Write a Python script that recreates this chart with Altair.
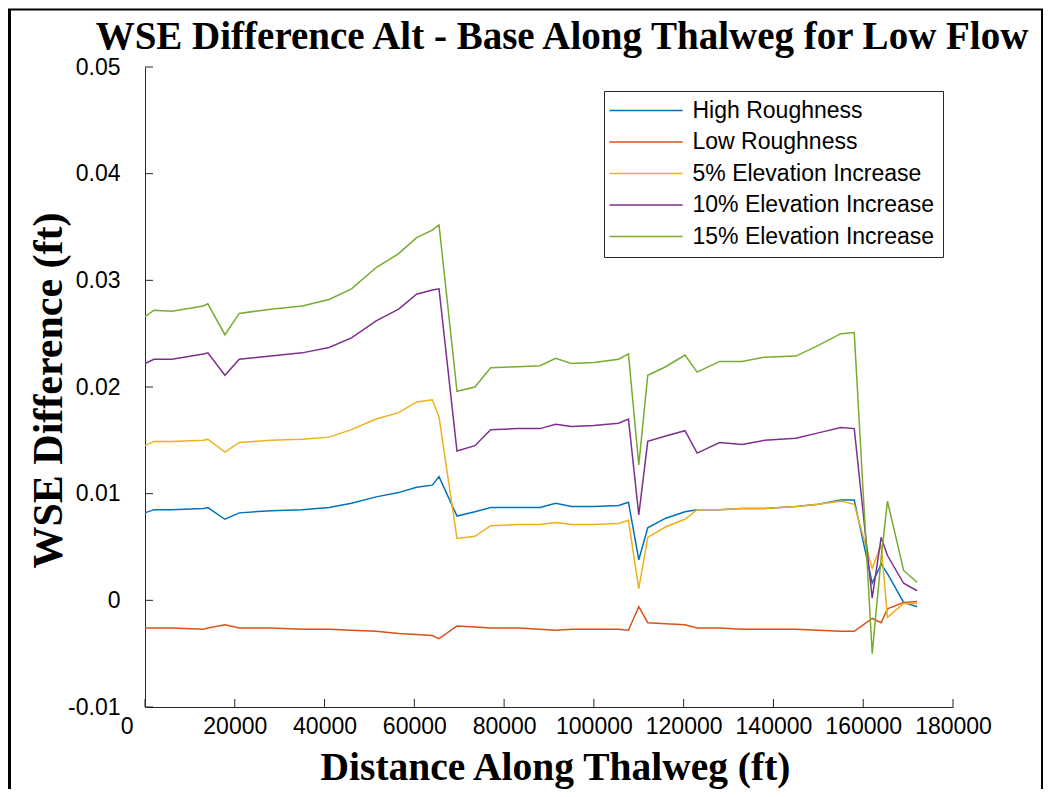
import altair as alt
import pandas as pd

# ---------------- data ----------------
distance = [0, 2000, 6000, 13000, 14000, 17800, 21000, 28000, 35000, 41000,
            46000, 51500, 56500, 60500, 64000, 65500, 69500, 73500, 77000, 83000,
            88000, 91500, 95000, 100000, 105500, 107700, 110000, 112000, 116000, 120300,
            123000, 128000, 133000, 138000, 145000, 150000, 155000, 158000, 162000, 164000,
            165400, 169000, 172000]

high_roughness = [0.0082, 0.0085, 0.0085, 0.0086, 0.0087, 0.0076, 0.0082, 0.0084, 0.0085, 0.0087,
                  0.0091, 0.0097, 0.0101, 0.0106, 0.0108, 0.0116, 0.0079, 0.0083, 0.0087, 0.0087,
                  0.0087, 0.0091, 0.0088, 0.0088, 0.0089, 0.0092, 0.0038, 0.0068, 0.0077, 0.0083,
                  0.0085, 0.0085, 0.0086, 0.0086, 0.0088, 0.0090, 0.0094, 0.0094, 0.0016, 0.0034,
                  0.0025, -0.0002, -0.0006]

low_roughness = [-0.0026, -0.0026, -0.0026, -0.0027, -0.0026, -0.0023, -0.0026, -0.0026, -0.0027, -0.0027,
                 -0.0028, -0.0029, -0.0031, -0.0032, -0.0033, -0.0036, -0.0024, -0.0025, -0.0026, -0.0026,
                 -0.0027, -0.0028, -0.0027, -0.0027, -0.0027, -0.0028, -0.0006, -0.0021, -0.0022, -0.0023,
                 -0.0026, -0.0026, -0.0027, -0.0027, -0.0027, -0.0028, -0.0029, -0.0029, -0.0017, -0.0021,
                 -0.0008, -0.0002, -0.0001]

elev_5 = [0.0145, 0.0149, 0.0149, 0.0150, 0.0151, 0.0139, 0.0148, 0.0150, 0.0151, 0.0153,
          0.0160, 0.0170, 0.0176, 0.0186, 0.0188, 0.0172, 0.0058, 0.0060, 0.0070, 0.0071,
          0.0071, 0.0073, 0.0071, 0.0071, 0.0072, 0.0075, 0.0011, 0.0059, 0.0069, 0.0076,
          0.0085, 0.0085, 0.0086, 0.0086, 0.0088, 0.0090, 0.0093, 0.0090, 0.0030, 0.0052,
          -0.0016, -0.0003, -0.0003]

elev_10 = [0.0222, 0.0226, 0.0226, 0.0231, 0.0232, 0.0211, 0.0226, 0.0229, 0.0232, 0.0237,
           0.0246, 0.0262, 0.0273, 0.0287, 0.0291, 0.0292, 0.0140, 0.0145, 0.0160, 0.0161,
           0.0161, 0.0165, 0.0163, 0.0164, 0.0166, 0.0170, 0.0080, 0.0149, 0.0154, 0.0159,
           0.0138, 0.0148, 0.0146, 0.0150, 0.0152, 0.0157, 0.0162, 0.0161, 0.0002, 0.0059,
           0.0042, 0.0016, 0.0009]

elev_15 = [0.0266, 0.0272, 0.0271, 0.0276, 0.0278, 0.0249, 0.0269, 0.0273, 0.0276, 0.0282,
           0.0292, 0.0312, 0.0325, 0.0340, 0.0347, 0.0352, 0.0196, 0.0200, 0.0218, 0.0219,
           0.0220, 0.0227, 0.0222, 0.0223, 0.0226, 0.0231, 0.0127, 0.0211, 0.0219, 0.0230,
           0.0214, 0.0224, 0.0224, 0.0228, 0.0229, 0.0239, 0.0250, 0.0251, -0.0050, 0.0040,
           0.0093, 0.0028, 0.0017]

series_names = ["High Roughness", "Low Roughness", "5% Elevation Increase",
                "10% Elevation Increase", "15% Elevation Increase"]
series_colors = ["#0072BD", "#D95319", "#EDB120", "#7E2F8E", "#77AC30"]

x_ticks = [0, 20000, 40000, 60000, 80000, 100000, 120000, 140000, 160000, 180000]
y_ticks = [-0.01, 0.0, 0.01, 0.02, 0.03, 0.04, 0.05]

rows = []
for name, vals in zip(series_names, [high_roughness, low_roughness, elev_5, elev_10, elev_15]):
    for d, v in zip(distance, vals):
        rows.append({"Distance": d, "WSE": v, "Series": name})
df = pd.DataFrame(rows)

# ---------------- layout ----------------
W, H = 808, 640
PAD = {"left": 137, "top": 59, "right": 92, "bottom": 82}
AXC = "#262626"

xs = alt.Scale(domain=[0, 180000], nice=False, zero=False)
ys = alt.Scale(domain=[-0.01, 0.05], nice=False, zero=False)

x_axis = alt.Axis(values=x_ticks, format="d", ticks=False, grid=False,
                  labelFont="Liberation Sans", labelFontSize=23, labelColor="black",
                  labelPadding=8, labelFlush=False, labelOverlap=False,
                  labelAlign=alt.ExprRef(expr="datum.value == 0 ? 'right' : 'center'"),
                  labelOffset=alt.ExprRef(expr="datum.value == 0 ? -12 : 0"),
                  domainColor=AXC, domainWidth=1,
                  title="Distance Along Thalweg (ft)", titleFont="Liberation Serif",
                  titleFontSize=39.5, titleFontWeight="bold", titleColor="black",
                  titleX=410, titleY=72, titleBaseline="alphabetic", titleAlign="center")

y_axis = alt.Axis(values=y_ticks, ticks=False, grid=False,
                  labelExpr="datum.value == 0 ? '0' : (datum.value < 0 ? '-' + format(-datum.value, '.2f') : format(datum.value, '.2f'))",
                  labelFont="Liberation Sans", labelFontSize=23, labelColor="black",
                  labelPadding=25, labelFlush=False, labelOverlap=False,
                  domainColor=AXC, domainWidth=1,
                  title="WSE Difference (ft)", titleFont="Liberation Serif",
                  titleFontSize=42, titleFontWeight="bold", titleColor="black",
                  titleX=-84, titleY=323, titleAngle=270, titleBaseline="alphabetic",
                  titleAlign="center")

legend = alt.Legend(title=None, orient="none", legendX=459, legendY=24,
                    symbolType="M-3.9,0H3.9", symbolSize=352, symbolStrokeWidth=1.5,
                    symbolOffset=22.5, labelOffset=35, labelLimit=500,
                    labelFont="Liberation Sans", labelFontSize=23, labelColor="black",
                    strokeColor=AXC, fillColor="white", padding=8, rowPadding=7.5)

lines = alt.Chart(df).mark_line(strokeWidth=1.5).encode(
    x=alt.X("Distance:Q", scale=xs, axis=x_axis),
    y=alt.Y("WSE:Q", scale=ys, axis=y_axis),
    color=alt.Color("Series:N", sort=series_names,
                    scale=alt.Scale(domain=series_names, range=series_colors),
                    legend=legend),
)

# inward tick marks (MATLAB style)
xtick_marks = alt.Chart(pd.DataFrame({"t": x_ticks})).mark_rule(color=AXC, strokeWidth=1).encode(
    x=alt.X("t:Q", scale=xs, axis=x_axis), y=alt.value(H), y2=alt.value(H - 8))
ytick_marks = alt.Chart(pd.DataFrame({"t": y_ticks})).mark_rule(color=AXC, strokeWidth=1).encode(
    y=alt.Y("t:Q", scale=ys, axis=y_axis), x=alt.value(0), x2=alt.value(8))

# figure frame
one = pd.DataFrame({"k": [0]})
frame_left = alt.Chart(one).mark_rule(color="black", strokeWidth=3).encode(
    x=alt.value(-135.5), y=alt.value(-57.5), y2=alt.value(H + PAD["bottom"]))
frame_top = alt.Chart(one).mark_rule(color="black", strokeWidth=2).encode(
    x=alt.value(-137), x2=alt.value(W + PAD["right"] - 2), y=alt.value(-57.5))
frame_right = alt.Chart(one).mark_rule(color="black", strokeWidth=2).encode(
    x=alt.value(W + PAD["right"] - 3), y=alt.value(-57.5), y2=alt.value(H + PAD["bottom"]))

chart = alt.layer(lines, xtick_marks, ytick_marks, frame_left, frame_top, frame_right).properties(
    width=W, height=H,
    padding=PAD,
    background="white",
    autosize=alt.AutoSizeParams(type="none"),
    title=alt.TitleParams(text="WSE Difference Alt - Base Along Thalweg for Low Flow",
                          font="Liberation Serif", fontSize=39, fontWeight="bold",
                          color="black", anchor="middle", dx=13, dy=99, offset=19,
                          baseline="alphabetic"),
).configure_view(stroke=None)

chart.save("out.html", embed_options={"renderer": "svg", "actions": False})
